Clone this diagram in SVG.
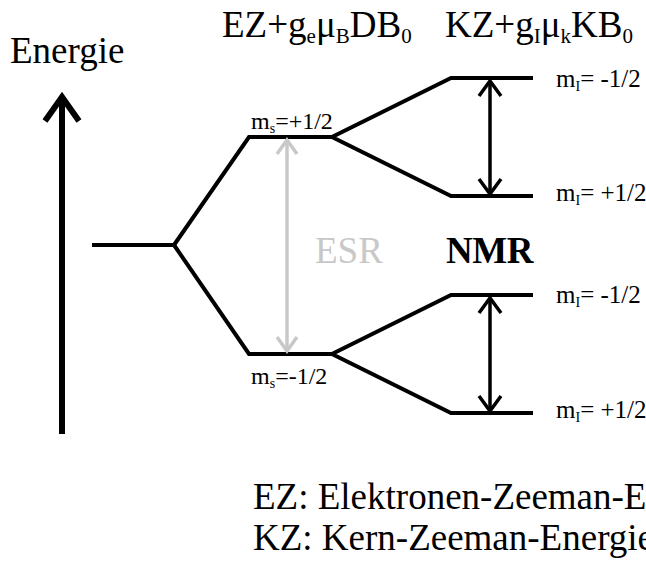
<svg xmlns="http://www.w3.org/2000/svg" width="646" height="565" viewBox="0 0 646 565" font-family="'Liberation Serif', 'DejaVu Serif', serif">
<style>
text{font-family:'Liberation Serif','DejaVu Serif',serif;fill:#000}
.big{font-size:37px}
.sub{font-size:21px}
.lab{font-size:24px}
.mi{font-size:25px}
.lsub{font-size:14px}
.lvl{fill:none;stroke:#000;stroke-width:4;stroke-linejoin:miter}
.arr{fill:none;stroke:#000;stroke-width:3.5}
.esr{fill:none;stroke:#c8c8c8;stroke-width:3.5}
</style>
<rect width="646" height="565" fill="#fff"/>
<g id="energy-axis">
<line x1="62" y1="434" x2="62" y2="97" stroke="#000" stroke-width="6"/>
<polyline points="45,121 62,97 79,121" fill="none" stroke="#000" stroke-width="6"/>
<text class="big" x="10" y="63">Energie</text>
</g>
<g id="titles">
<text class="big" x="222" y="37">EZ+g<tspan class="sub" dy="6">e</tspan><tspan dy="-6">μ</tspan><tspan class="sub" dy="6">B</tspan><tspan dy="-6">DB</tspan><tspan class="sub" dy="6">0</tspan></text>
<text class="big" x="445" y="37">KZ+g<tspan class="sub" dy="6">I</tspan><tspan dy="-6">μ</tspan><tspan class="sub" dy="6">k</tspan><tspan dy="-6">KB</tspan><tspan class="sub" dy="6">0</tspan></text>
</g>
<g id="level-ground">
<line class="lvl" x1="92" y1="245" x2="174" y2="245"/>
</g>
<g id="level-ms-plus">
<text class="lab" x="251" y="129">m<tspan class="lsub" dy="4">s</tspan><tspan dy="-4">=+1/2</tspan></text>
</g>
<g id="level-ms-minus">
<text class="lab" x="251" y="384">m<tspan class="lsub" dy="4">s</tspan><tspan dy="-4">=-1/2</tspan></text>
</g>
<g id="level-mi-1">
<text class="mi" x="556" y="87">m<tspan class="lsub" dy="4">I</tspan><tspan dy="-4">= -1/2</tspan></text>
</g>
<g id="level-mi-2">
<text class="mi" x="556" y="201">m<tspan class="lsub" dy="4">I</tspan><tspan dy="-4">= +1/2</tspan></text>
</g>
<g id="level-mi-3">
<text class="mi" x="556" y="303">m<tspan class="lsub" dy="4">I</tspan><tspan dy="-4">= -1/2</tspan></text>
</g>
<g id="level-mi-4">
<text class="mi" x="556" y="418">m<tspan class="lsub" dy="4">I</tspan><tspan dy="-4">= +1/2</tspan></text>
</g>
<g id="connectors">
<polyline class="lvl" points="174,245 249,137 332,137"/>
<polyline class="lvl" points="174,245 249,354 332,354"/>
<polyline class="lvl" points="533,78 451,78 332,137 451,196 533,196"/>
<polyline class="lvl" points="533,295 451,295 332,354 451,413 533,413"/>
<line class="arr" x1="490" y1="81" x2="490" y2="194"/>
<polyline class="arr" points="479,96 490,81 501,96"/>
<polyline class="arr" points="479,179 490,194 501,179"/>
<line class="arr" x1="490" y1="298" x2="490" y2="411"/>
<polyline class="arr" points="479,313 490,298 501,313"/>
<polyline class="arr" points="479,396 490,411 501,396"/>
<line class="esr" x1="287" y1="140" x2="287" y2="351"/>
<polyline class="esr" points="277,154 287,140 297,154"/>
<polyline class="esr" points="277,337 287,351 297,337"/>
</g>
<g id="labels">
<text class="big" x="315" y="263" style="fill:#c8c8c8">ESR</text>
<text class="big" x="446" y="263" font-weight="bold" letter-spacing="-0.5">NMR</text>
<text class="big" x="253" y="509">EZ: Elektronen-Zeeman-Energie</text>
<text class="big" x="253" y="550">KZ: Kern-Zeeman-Energie</text>
</g>
</svg>
